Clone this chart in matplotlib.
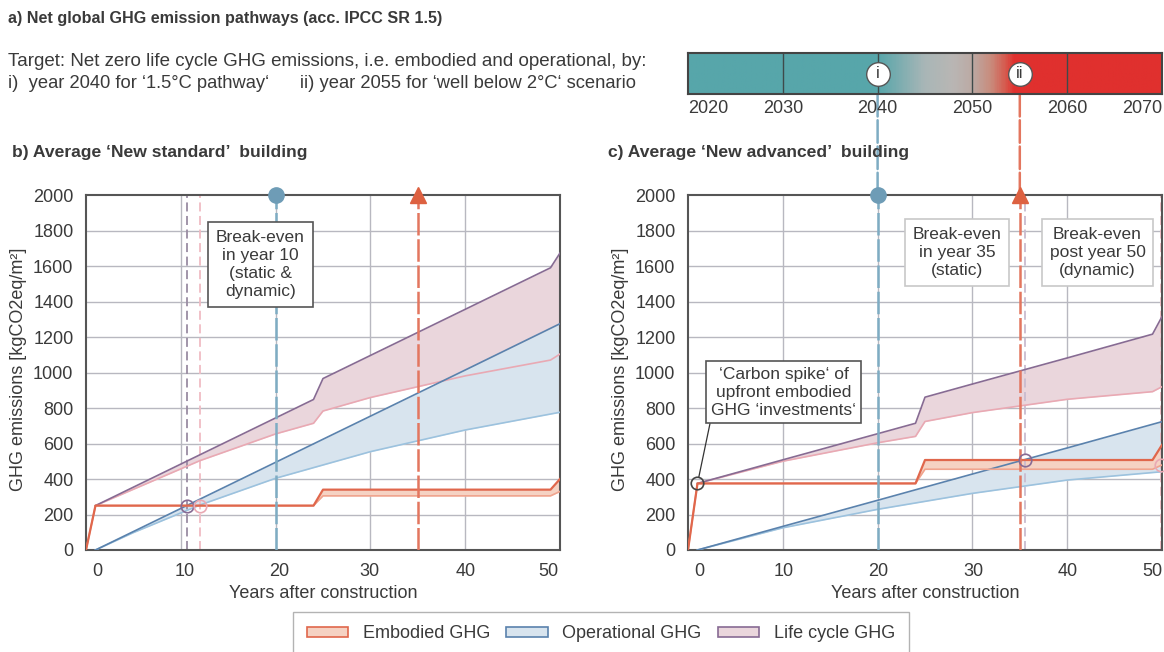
import numpy as np
import matplotlib
matplotlib.use('Agg')
import matplotlib.pyplot as plt
from matplotlib import font_manager
from matplotlib.colors import LinearSegmentedColormap
from matplotlib.patches import ConnectionPatch, Patch

plt.rcParams['font.family'] = ['Liberation Sans', 'DejaVu Sans']
names = {f.name for f in font_manager.fontManager.ttflist}
NARROW = 'Liberation Sans Narrow' if 'Liberation Sans Narrow' in names else None

# ---- data -----------------------------------------------------------------
timeline_labels = ['2020', '2030', '2040', '2050', '2060', '2070']
timeline_years = [0, 10, 20, 30, 40, 50]      # years after construction (2020)
target_15 = 20      # 2040, 1.5 degC pathway
target_2 = 35       # 2055, well below 2 degC

year_labels = ['0', '10', '20', '30', '40', '50']

# b) new standard building
std_emb_x = [0, 1, 24, 25, 49, 50]
std_emb_hi = [0, 250, 250, 340, 340, 400]
std_emb_lo = [0, 250, 250, 305, 305, 330]
std_op_x = [1, 5, 12, 20, 30, 40, 50]
std_op_static = [0, 104, 286, 494, 754, 1014, 1275]
std_op_dyn = [0, 98, 253, 404, 554, 676, 776]
std_lc_x = [1, 12, 20, 24, 25, 30, 40, 49, 50]
std_lc_static = [250, 536, 744, 848, 966, 1096, 1356, 1590, 1673]
std_lc_dyn = [250, 503, 654, 714, 783, 859, 981, 1070, 1104]
std_be_static = (10.7, 250)
std_be_dyn = (12.0, 250)

# c) new advanced building
adv_emb_x = [0, 1, 24, 25, 49, 50]
adv_emb_hi = [0, 375, 375, 507, 507, 592]
adv_emb_lo = [0, 375, 375, 455, 455, 479]
adv_op_x = [1, 10, 20, 30, 40, 50]
adv_op_static = [0, 133, 280, 428, 575, 723]
adv_op_dyn = [0, 125, 229, 319, 394, 441]
adv_lc_x = [1, 10, 20, 24, 25, 30, 40, 49, 50]
adv_lc_static = [375, 508, 655, 714, 861, 935, 1082, 1216, 1315]
adv_lc_dyn = [375, 500, 604, 640, 724, 774, 849, 892, 920]
adv_be_static = (35.5, 507)
adv_be_dyn = (49.9, 479)
adv_spike = (1, 375)

# ---- colours ----------------------------------------------------------------
EMB, EMB_LO, EMB_F = '#e0674c', '#f0a48e', '#f5d2c3'
OP, OP_LO, OP_F = '#5a82ad', '#9cc2de', '#d8e4ee'
LC, LC_LO, LC_F = '#876b93', '#e9a9b3', '#ead6dc'
BLUE_V, BLUE_DOT = '#7eacc3', '#6e9cb6'
RED_V, RED_TRI = '#e3765f', '#dd6141'
GRID = '#b8b8c0'
TXT = '#3a3a3a'

fig = plt.figure(figsize=(11.64, 6.52), dpi=100)
W, H = 1164, 652


def box(x0, y0, x1, y1):
    return [x0 / W, 1 - y1 / H, (x1 - x0) / W, (y1 - y0) / H]


axb = fig.add_axes(box(86, 195, 560, 550))
axc = fig.add_axes(box(688, 195, 1162, 550))
tl = fig.add_axes(box(688, 53, 1162, 94))


def panel(ax, emb, op, lc, tick_pos):
    ex, ehi, elo = emb
    ox, ost, ody = op
    lx, lst, ldy = lc
    ax.set_xlim(0, 50)
    ax.set_ylim(0, 2000)
    for g in [10, 20, 30, 40]:
        ax.axvline(g, color=GRID, lw=1, zorder=0)
    for g in range(200, 2000, 200):
        ax.axhline(g, color=GRID, lw=1, zorder=0)
    ax.fill_between(lx, ldy, lst, color=LC_F, lw=0, zorder=1)
    ax.fill_between(ox, ody, ost, color=OP_F, lw=0, zorder=1)
    ax.fill_between(ex, elo, ehi, color=EMB_F, lw=0, zorder=1)
    ax.plot(lx, ldy, color=LC_LO, lw=1.2, zorder=3)
    ax.plot(lx, lst, color=LC, lw=1.2, zorder=3)
    ax.plot(ox, ody, color=OP_LO, lw=1.2, zorder=3)
    ax.plot(ox, ost, color=OP, lw=1.2, zorder=3)
    ax.plot(ex, elo, color=EMB_LO, lw=1.2, zorder=3)
    ax.plot(ex, ehi, color=EMB, lw=1.6, zorder=3)

    ax.axvline(target_15, color=BLUE_V, lw=1.8, dashes=(9, 1.5), zorder=4)
    ax.axvline(target_2, color=RED_V, lw=1.8, dashes=(9, 1.5), zorder=4)
    ax.plot([target_15], [2000], 'o', ms=11, color=BLUE_DOT, clip_on=False, zorder=6)
    ax.plot([target_2], [2000], '^', ms=12, color=RED_TRI, clip_on=False, zorder=6)

    ax.set_xticks(tick_pos)
    ax.set_xticklabels(year_labels)
    ax.set_yticks(range(0, 2001, 200))
    ax.tick_params(length=0, labelsize=13, colors=TXT, pad=9)
    for s in ax.spines.values():
        s.set_color('#555555')
        s.set_linewidth(1.5)
    ax.set_xlabel('Years after construction', fontsize=13, color=TXT, labelpad=4)
    ax.set_ylabel('GHG emissions [kgCO2eq/m²]', fontsize=13, color=TXT)
    ax.yaxis.set_label_coords(-0.124, 0.51)


panel(axb, (std_emb_x, std_emb_hi, std_emb_lo), (std_op_x, std_op_static, std_op_dyn),
      (std_lc_x, std_lc_static, std_lc_dyn), [1.2, 10.4, 20.4, 29.9, 40.1, 48.8])
panel(axc, (adv_emb_x, adv_emb_hi, adv_emb_lo), (adv_op_x, adv_op_static, adv_op_dyn),
      (adv_lc_x, adv_lc_static, adv_lc_dyn), [1.2, 10.1, 20.1, 30.1, 40.0, 49.0])

# break-even markers
axb.axvline(std_be_static[0], color='#9a8ca3', lw=1.3, dashes=(5, 2.5), zorder=2)
axb.axvline(std_be_dyn[0], color='#f0bcc4', lw=1.3, dashes=(5, 2.5), zorder=2)
axb.plot(*std_be_static, 'o', ms=9, mfc='none', mec=LC, mew=1.2, zorder=7)
axb.plot(*std_be_dyn, 'o', ms=9, mfc='none', mec=LC_LO, mew=1.2, zorder=7)
axc.axvline(adv_be_static[0], color='#c9bccf', lw=1.3, dashes=(5, 2.5), zorder=2)
axc.axvline(adv_be_dyn[0], color='#f0bcc4', lw=1.3, dashes=(5, 2.5), zorder=2)
axc.plot(*adv_be_static, 'o', ms=9, mfc='none', mec=LC, mew=1.2, zorder=7)
axc.plot(*adv_be_dyn, 'o', ms=9, mfc='none', mec=LC_LO, mew=1.2, zorder=7, clip_on=False)
axc.plot(*adv_spike, 'o', ms=9, mfc='none', mec='#444444', mew=1.2, zorder=7)

# text boxes
kw = dict(ha='center', va='center', fontsize=12.5, color=TXT, linespacing=1.25, zorder=8)
axb.text(18.4, 1608, 'Break-even\nin year 10\n(static &\ndynamic)',
         bbox=dict(boxstyle='square,pad=0.45', fc='white', ec='#555555', lw=1.2), **kw)
axc.text(28.4, 1675, 'Break-even\nin year 35\n(static)',
         bbox=dict(boxstyle='square,pad=0.45', fc='white', ec='#c8c8c8', lw=1.2), **kw)
axc.text(43.2, 1675, 'Break-even\npost year 50\n(dynamic)',
         bbox=dict(boxstyle='square,pad=0.45', fc='white', ec='#c8c8c8', lw=1.2), **kw)
axc.annotate('‘Carbon spike‘ of\nupfront embodied\nGHG ‘investments‘', xy=adv_spike,
             xytext=(10.1, 890), textcoords='data',
             bbox=dict(boxstyle='square,pad=0.3', fc='white', ec='#555555', lw=1.2),
             arrowprops=dict(arrowstyle='-', color='#333333', lw=0.9, shrinkA=0, shrinkB=5,
                             relpos=(0, 0)), **kw)

# timeline bar
cmap = LinearSegmentedColormap.from_list('tl', [
    (0, '#57a6aa'), (0.40, '#57a6aa'), (0.50, '#a9b6b7'), (0.56, '#b9b6b4'),
    (0.60, '#bcaaa4'), (0.64, '#c98b7c'), (0.67, '#d65a4e'), (0.69, '#e0302e'), (1, '#e0302e')])
tl.imshow(np.linspace(0, 1, 600).reshape(1, -1), extent=[0, 50, 0, 1], aspect='auto', cmap=cmap)
tl.set_xlim(0, 50)
tl.set_ylim(0, 1)
for g in timeline_years[1:-1]:
    tl.axvline(g, color='#3e4a4a', lw=1)
tl.set_yticks([])
tl.set_xticks(timeline_years)
tl.set_xticklabels(timeline_labels)
tl.tick_params(length=0, labelsize=13, colors=TXT, pad=4)
labs = tl.get_xticklabels()
labs[0].set_ha('left')
labs[-1].set_ha('right')
for s in tl.spines.values():
    s.set_color('#444444')
    s.set_linewidth(1.5)
for x, t in [(target_15, 'i'), (target_2, 'ii')]:
    tl.plot([x], [0.5], 'o', ms=17, mfc='white', mec='#555555', mew=1)
    tl.text(x, 0.5, t, ha='center', va='center', fontsize=12, color=TXT)

for x, c in [(target_15, BLUE_V), (target_2, RED_V)]:
    con = ConnectionPatch(xyA=(x, 0), coordsA=tl.transData, xyB=(x, 2000), coordsB=axc.transData,
                          color=c, lw=1.8, linestyle=(0, (9, 1.5)), zorder=0)
    fig.add_artist(con)

# titles
bold = dict(fontweight='bold', color=TXT)
if NARROW:
    fig.text(8 / W, 1 - 18 / H, 'a) Net global GHG emission pathways (acc. IPCC SR 1.5)',
             va='center', fontsize=12.5, family=[NARROW, 'Liberation Sans'], **bold)
else:
    fig.text(8 / W, 1 - 18 / H, 'a) Net global GHG emission pathways (acc. IPCC SR 1.5)',
             va='center', fontsize=11.6, **bold)
fig.text(12 / W, 1 - 152 / H, 'b) Average ‘New standard’  building', va='center', fontsize=12.6, **bold)
fig.text(608 / W, 1 - 152 / H, 'c) Average ‘New advanced’  building', va='center', fontsize=12.6, **bold)
fig.text(8 / W, 1 - 61 / H,
         'Target: Net zero life cycle GHG emissions, i.e. embodied and operational, by:',
         va='center', fontsize=13.5, color=TXT)
fig.text(8 / W, 1 - 84 / H,
         'i)  year 2040 for ‘1.5°C pathway‘      ii) year 2055 for ‘well below 2°C‘ scenario',
         va='center', fontsize=13.2, color=TXT)

# legend
handles = [Patch(fc=EMB_F, ec=EMB, lw=1.2), Patch(fc=OP_F, ec=OP, lw=1.2), Patch(fc=LC_F, ec=LC, lw=1.2)]
leg = fig.legend(handles, ['Embodied GHG', 'Operational GHG', 'Life cycle GHG'], ncol=3,
                 loc='center', bbox_to_anchor=(601 / W, 1 - 634 / H), fontsize=13,
                 frameon=True, fancybox=False, edgecolor='#a0a0a0', borderpad=0.75,
                 handlelength=2.3, handleheight=0.5, columnspacing=0.9, handletextpad=0.8)
for t in leg.get_texts():
    t.set_color(TXT)
leg.get_frame().set_linewidth(1)

fig.savefig('out.png', dpi=100)
